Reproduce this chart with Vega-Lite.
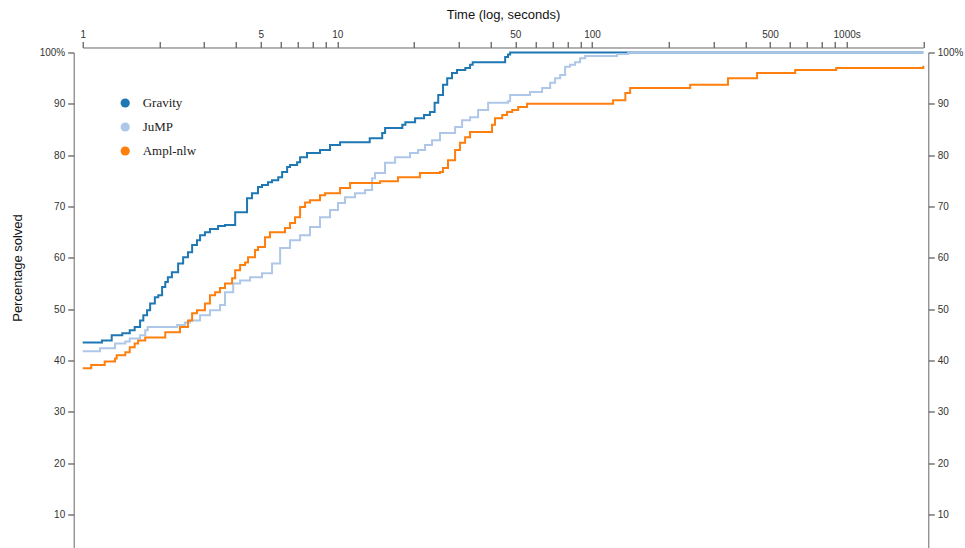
{
  "$schema": "https://vega.github.io/schema/vega-lite/v6.json",
  "autosize": {"type": "none"},
  "width": 840.6,
  "height": 513.3,
  "padding": {"left": 82.7, "top": 52.5, "right": 41.7, "bottom": 0},
  "config": {
    "view": {"stroke": null},
    "font": "Liberation Sans",
    "axis": {"grid": false, "domainColor": "#666", "tickColor": "#333", "labelColor": "#333", "labelFontSize": 10, "tickSize": 6, "labelFont": "Liberation Sans"}
  },
  "data": {"values": [
    {"series": "Gravity", "t": 1.0, "pct": 43.5},
    {"series": "Gravity", "t": 1.19, "pct": 43.9},
    {"series": "Gravity", "t": 1.30, "pct": 44.9},
    {"series": "Gravity", "t": 1.43, "pct": 45.3},
    {"series": "Gravity", "t": 1.53, "pct": 45.9},
    {"series": "Gravity", "t": 1.60, "pct": 46.5},
    {"series": "Gravity", "t": 1.68, "pct": 47.8},
    {"series": "Gravity", "t": 1.73, "pct": 48.8},
    {"series": "Gravity", "t": 1.79, "pct": 49.8},
    {"series": "Gravity", "t": 1.84, "pct": 51.1},
    {"series": "Gravity", "t": 1.92, "pct": 52.3},
    {"series": "Gravity", "t": 1.98, "pct": 52.7},
    {"series": "Gravity", "t": 2.05, "pct": 54.3},
    {"series": "Gravity", "t": 2.11, "pct": 55.3},
    {"series": "Gravity", "t": 2.16, "pct": 56.2},
    {"series": "Gravity", "t": 2.24, "pct": 57.2},
    {"series": "Gravity", "t": 2.37, "pct": 58.9},
    {"series": "Gravity", "t": 2.48, "pct": 60.1},
    {"series": "Gravity", "t": 2.59, "pct": 61.1},
    {"series": "Gravity", "t": 2.69, "pct": 62.5},
    {"series": "Gravity", "t": 2.81, "pct": 63.4},
    {"series": "Gravity", "t": 2.89, "pct": 64.4},
    {"series": "Gravity", "t": 3.02, "pct": 65.0},
    {"series": "Gravity", "t": 3.16, "pct": 65.6},
    {"series": "Gravity", "t": 3.40, "pct": 66.2},
    {"series": "Gravity", "t": 3.62, "pct": 66.4},
    {"series": "Gravity", "t": 3.97, "pct": 68.9},
    {"series": "Gravity", "t": 4.42, "pct": 71.6},
    {"series": "Gravity", "t": 4.62, "pct": 72.6},
    {"series": "Gravity", "t": 4.88, "pct": 73.8},
    {"series": "Gravity", "t": 5.06, "pct": 74.2},
    {"series": "Gravity", "t": 5.34, "pct": 74.7},
    {"series": "Gravity", "t": 5.54, "pct": 75.1},
    {"series": "Gravity", "t": 5.86, "pct": 75.7},
    {"series": "Gravity", "t": 6.07, "pct": 76.7},
    {"series": "Gravity", "t": 6.35, "pct": 77.7},
    {"series": "Gravity", "t": 6.52, "pct": 78.1},
    {"series": "Gravity", "t": 6.95, "pct": 78.6},
    {"series": "Gravity", "t": 7.14, "pct": 79.6},
    {"series": "Gravity", "t": 7.60, "pct": 80.4},
    {"series": "Gravity", "t": 8.55, "pct": 81.0},
    {"series": "Gravity", "t": 9.36, "pct": 82.0},
    {"series": "Gravity", "t": 10.25, "pct": 82.5},
    {"series": "Gravity", "t": 13.4, "pct": 83.3},
    {"series": "Gravity", "t": 15.0, "pct": 84.3},
    {"series": "Gravity", "t": 15.4, "pct": 85.3},
    {"series": "Gravity", "t": 18.0, "pct": 85.9},
    {"series": "Gravity", "t": 18.5, "pct": 86.4},
    {"series": "Gravity", "t": 20.2, "pct": 87.2},
    {"series": "Gravity", "t": 21.9, "pct": 87.8},
    {"series": "Gravity", "t": 23.1, "pct": 88.4},
    {"series": "Gravity", "t": 24.1, "pct": 90.2},
    {"series": "Gravity", "t": 24.9, "pct": 91.7},
    {"series": "Gravity", "t": 26.0, "pct": 93.7},
    {"series": "Gravity", "t": 27.0, "pct": 95.0},
    {"series": "Gravity", "t": 28.2, "pct": 96.0},
    {"series": "Gravity", "t": 29.5, "pct": 96.6},
    {"series": "Gravity", "t": 31.8, "pct": 97.0},
    {"series": "Gravity", "t": 33.2, "pct": 97.6},
    {"series": "Gravity", "t": 34.0, "pct": 98.1},
    {"series": "Gravity", "t": 45.6, "pct": 99.1},
    {"series": "Gravity", "t": 46.8, "pct": 99.6},
    {"series": "Gravity", "t": 47.7, "pct": 100},
    {"series": "Gravity", "t": 2000, "pct": 100},
    {"series": "JuMP", "t": 1.0, "pct": 41.8},
    {"series": "JuMP", "t": 1.17, "pct": 42.4},
    {"series": "JuMP", "t": 1.34, "pct": 43.3},
    {"series": "JuMP", "t": 1.47, "pct": 43.7},
    {"series": "JuMP", "t": 1.53, "pct": 44.3},
    {"series": "JuMP", "t": 1.68, "pct": 44.9},
    {"series": "JuMP", "t": 1.76, "pct": 45.9},
    {"series": "JuMP", "t": 1.80, "pct": 46.5},
    {"series": "JuMP", "t": 2.35, "pct": 46.9},
    {"series": "JuMP", "t": 2.52, "pct": 47.4},
    {"series": "JuMP", "t": 2.64, "pct": 47.8},
    {"series": "JuMP", "t": 2.89, "pct": 48.8},
    {"series": "JuMP", "t": 3.16, "pct": 49.8},
    {"series": "JuMP", "t": 3.46, "pct": 50.8},
    {"series": "JuMP", "t": 3.62, "pct": 53.3},
    {"series": "JuMP", "t": 3.90, "pct": 55.0},
    {"series": "JuMP", "t": 4.15, "pct": 55.6},
    {"series": "JuMP", "t": 4.54, "pct": 56.2},
    {"series": "JuMP", "t": 5.06, "pct": 57.0},
    {"series": "JuMP", "t": 5.54, "pct": 58.9},
    {"series": "JuMP", "t": 5.96, "pct": 61.9},
    {"series": "JuMP", "t": 6.52, "pct": 63.4},
    {"series": "JuMP", "t": 7.14, "pct": 64.4},
    {"series": "JuMP", "t": 7.81, "pct": 66.0},
    {"series": "JuMP", "t": 8.55, "pct": 67.9},
    {"series": "JuMP", "t": 9.36, "pct": 69.3},
    {"series": "JuMP", "t": 10.06, "pct": 70.7},
    {"series": "JuMP", "t": 10.72, "pct": 71.8},
    {"series": "JuMP", "t": 11.74, "pct": 72.6},
    {"series": "JuMP", "t": 12.85, "pct": 73.2},
    {"series": "JuMP", "t": 13.69, "pct": 75.5},
    {"series": "JuMP", "t": 14.06, "pct": 76.5},
    {"series": "JuMP", "t": 15.39, "pct": 78.5},
    {"series": "JuMP", "t": 16.86, "pct": 79.6},
    {"series": "JuMP", "t": 19.3, "pct": 80.4},
    {"series": "JuMP", "t": 20.75, "pct": 81.0},
    {"series": "JuMP", "t": 22.1, "pct": 82.0},
    {"series": "JuMP", "t": 23.55, "pct": 82.9},
    {"series": "JuMP", "t": 25.3, "pct": 84.3},
    {"series": "JuMP", "t": 29.0, "pct": 85.5},
    {"series": "JuMP", "t": 30.9, "pct": 86.8},
    {"series": "JuMP", "t": 33.2, "pct": 87.4},
    {"series": "JuMP", "t": 35.7, "pct": 88.8},
    {"series": "JuMP", "t": 39.1, "pct": 90.2},
    {"series": "JuMP", "t": 46.8, "pct": 90.5},
    {"series": "JuMP", "t": 47.7, "pct": 91.7},
    {"series": "JuMP", "t": 57.1, "pct": 92.3},
    {"series": "JuMP", "t": 63.7, "pct": 93.1},
    {"series": "JuMP", "t": 68.5, "pct": 94.1},
    {"series": "JuMP", "t": 71.6, "pct": 95.0},
    {"series": "JuMP", "t": 75.0, "pct": 95.6},
    {"series": "JuMP", "t": 78.4, "pct": 97.2},
    {"series": "JuMP", "t": 82.0, "pct": 97.6},
    {"series": "JuMP", "t": 85.8, "pct": 98.1},
    {"series": "JuMP", "t": 89.8, "pct": 98.9},
    {"series": "JuMP", "t": 94.0, "pct": 99.3},
    {"series": "JuMP", "t": 125.5, "pct": 99.7},
    {"series": "JuMP", "t": 138.7, "pct": 100},
    {"series": "JuMP", "t": 2000, "pct": 100},
    {"series": "Ampl-nlw", "t": 1.0, "pct": 38.5},
    {"series": "Ampl-nlw", "t": 1.08, "pct": 39.1},
    {"series": "Ampl-nlw", "t": 1.22, "pct": 39.8},
    {"series": "Ampl-nlw", "t": 1.34, "pct": 40.4},
    {"series": "Ampl-nlw", "t": 1.36, "pct": 41.0},
    {"series": "Ampl-nlw", "t": 1.47, "pct": 41.6},
    {"series": "Ampl-nlw", "t": 1.53, "pct": 42.6},
    {"series": "Ampl-nlw", "t": 1.60, "pct": 43.3},
    {"series": "Ampl-nlw", "t": 1.65, "pct": 43.9},
    {"series": "Ampl-nlw", "t": 1.76, "pct": 44.5},
    {"series": "Ampl-nlw", "t": 2.11, "pct": 45.5},
    {"series": "Ampl-nlw", "t": 2.41, "pct": 46.5},
    {"series": "Ampl-nlw", "t": 2.59, "pct": 47.8},
    {"series": "Ampl-nlw", "t": 2.69, "pct": 49.2},
    {"series": "Ampl-nlw", "t": 2.81, "pct": 49.8},
    {"series": "Ampl-nlw", "t": 3.02, "pct": 51.1},
    {"series": "Ampl-nlw", "t": 3.16, "pct": 52.7},
    {"series": "Ampl-nlw", "t": 3.31, "pct": 53.3},
    {"series": "Ampl-nlw", "t": 3.46, "pct": 54.1},
    {"series": "Ampl-nlw", "t": 3.62, "pct": 55.0},
    {"series": "Ampl-nlw", "t": 3.86, "pct": 56.0},
    {"series": "Ampl-nlw", "t": 3.97, "pct": 57.6},
    {"series": "Ampl-nlw", "t": 4.15, "pct": 58.6},
    {"series": "Ampl-nlw", "t": 4.34, "pct": 59.1},
    {"series": "Ampl-nlw", "t": 4.46, "pct": 60.1},
    {"series": "Ampl-nlw", "t": 4.75, "pct": 61.5},
    {"series": "Ampl-nlw", "t": 4.88, "pct": 62.1},
    {"series": "Ampl-nlw", "t": 5.2, "pct": 64.0},
    {"series": "Ampl-nlw", "t": 5.44, "pct": 65.0},
    {"series": "Ampl-nlw", "t": 6.23, "pct": 65.8},
    {"series": "Ampl-nlw", "t": 6.52, "pct": 66.8},
    {"series": "Ampl-nlw", "t": 6.82, "pct": 67.9},
    {"series": "Ampl-nlw", "t": 7.14, "pct": 69.9},
    {"series": "Ampl-nlw", "t": 7.47, "pct": 70.8},
    {"series": "Ampl-nlw", "t": 7.81, "pct": 71.2},
    {"series": "Ampl-nlw", "t": 8.55, "pct": 72.2},
    {"series": "Ampl-nlw", "t": 8.95, "pct": 72.6},
    {"series": "Ampl-nlw", "t": 10.25, "pct": 73.6},
    {"series": "Ampl-nlw", "t": 11.22, "pct": 74.6},
    {"series": "Ampl-nlw", "t": 14.72, "pct": 74.9},
    {"series": "Ampl-nlw", "t": 17.3, "pct": 75.7},
    {"series": "Ampl-nlw", "t": 21.1, "pct": 76.5},
    {"series": "Ampl-nlw", "t": 25.3, "pct": 76.7},
    {"series": "Ampl-nlw", "t": 26.0, "pct": 77.5},
    {"series": "Ampl-nlw", "t": 27.2, "pct": 79.0},
    {"series": "Ampl-nlw", "t": 29.0, "pct": 81.0},
    {"series": "Ampl-nlw", "t": 30.3, "pct": 82.4},
    {"series": "Ampl-nlw", "t": 31.75, "pct": 83.5},
    {"series": "Ampl-nlw", "t": 33.2, "pct": 84.5},
    {"series": "Ampl-nlw", "t": 40.5, "pct": 85.9},
    {"series": "Ampl-nlw", "t": 41.6, "pct": 87.2},
    {"series": "Ampl-nlw", "t": 44.4, "pct": 87.8},
    {"series": "Ampl-nlw", "t": 46.4, "pct": 88.4},
    {"series": "Ampl-nlw", "t": 48.6, "pct": 88.8},
    {"series": "Ampl-nlw", "t": 51.3, "pct": 89.4},
    {"series": "Ampl-nlw", "t": 55.6, "pct": 90.0},
    {"series": "Ampl-nlw", "t": 121, "pct": 90.7},
    {"series": "Ampl-nlw", "t": 135.2, "pct": 92.1},
    {"series": "Ampl-nlw", "t": 141.2, "pct": 93.1},
    {"series": "Ampl-nlw", "t": 243, "pct": 93.7},
    {"series": "Ampl-nlw", "t": 342, "pct": 95.0},
    {"series": "Ampl-nlw", "t": 445, "pct": 96.0},
    {"series": "Ampl-nlw", "t": 628, "pct": 96.6},
    {"series": "Ampl-nlw", "t": 910, "pct": 97.0},
    {"series": "Ampl-nlw", "t": 1995, "pct": 97.0},
    {"series": "Ampl-nlw", "t": 2000, "pct": 97.4}
  ]},
  "encoding": {
    "x": {
      "field": "t", "type": "quantitative",
      "scale": {"type": "log", "domain": [1, 2000], "nice": false},
      "axis": {
        "orient": "top", "offset": 5, "title": "Time (log, seconds)", "titleFontSize": 13, "titleFontWeight": "normal", "titleColor": "#111", "titlePadding": 8,
        "values": [1,2,3,4,5,6,7,8,9,10,20,30,40,50,60,70,80,90,100,200,300,400,500,600,700,800,900,1000,2000],
        "labelExpr": "indexof([1,5,10,50,100,500], datum.value) >= 0 ? datum.label : (datum.value == 1000 ? '1000s' : '')",
        "format": "d", "labelPadding": 2, "labelFlush": false
      }
    }
  },
  "layer": [
    {
      "mark": {"type": "line", "interpolate": "step-after", "strokeWidth": 2},
      "encoding": {
        "y": {
          "field": "pct", "type": "quantitative",
          "scale": {"domain": [0, 100], "nice": false},
          "axis": {"orient": "left", "offset": 9, "values": [10,20,30,40,50,60,70,80,90,100],
            "labelExpr": "datum.value == 100 ? '100%' : datum.label",
            "title": "Percentage solved", "titleFontSize": 13, "titleFontWeight": "normal", "titleColor": "#111", "titleY": 215, "titleX": -49, "labelPadding": 3}
        },
        "color": {
          "field": "series", "type": "nominal",
          "scale": {"domain": ["Gravity", "JuMP", "Ampl-nlw"], "range": ["#1f77b4", "#aec7e8", "#ff7f0e"]},
          "legend": {
            "title": null, "orient": "none", "legendX": 36, "legendY": 44,
            "symbolType": "circle", "symbolSize": 85, "symbolStrokeWidth": 0,
            "labelFont": "Liberation Serif", "labelFontSize": 13, "labelColor": "#222",
            "labelOffset": 11, "rowPadding": 10,
            "encode": {"symbols": {"update": {"fill": {"scale": "color", "field": "value"}, "fillOpacity": {"value": 1}, "strokeWidth": {"value": 0}}}}
          }
        }
      }
    },
    {
      "mark": {"type": "line", "interpolate": "step-after", "strokeWidth": 0, "opacity": 0},
      "encoding": {
        "y": {
          "field": "pct", "type": "quantitative",
          "scale": {"domain": [0, 100], "nice": false},
          "axis": {"orient": "right", "offset": 5, "values": [10,20,30,40,50,60,70,80,90,100],
            "labelExpr": "datum.value == 100 ? '100%' : datum.label", "title": null, "labelPadding": 3}
        },
        "detail": {"field": "series"}
      }
    }
  ],
  "resolve": {"scale": {"y": "independent"}}
}
